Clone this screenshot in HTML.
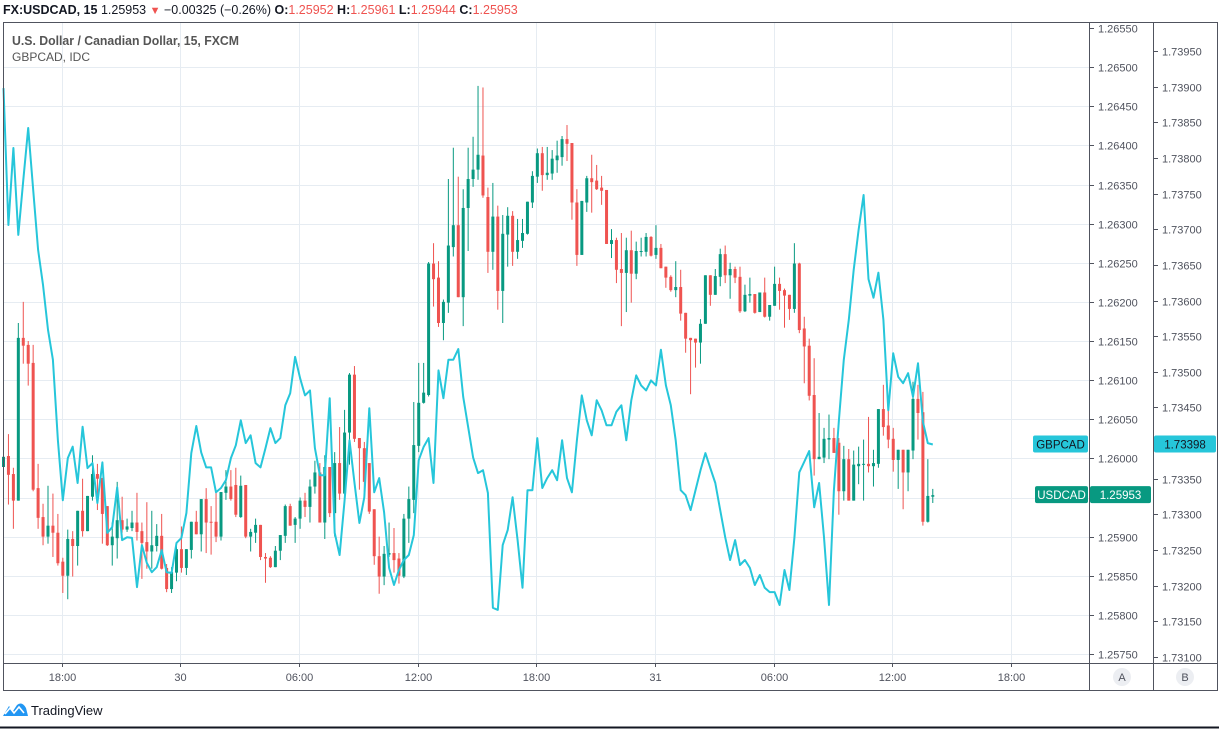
<!DOCTYPE html>
<html><head><meta charset="utf-8"><style>
html,body{margin:0;padding:0;background:#fff;width:1219px;height:729px;overflow:hidden;font-family:"Liberation Sans",sans-serif}
svg{display:block}
</style></head><body>
<svg id="c" width="1219" height="729" xmlns="http://www.w3.org/2000/svg" font-family="Liberation Sans, sans-serif">
<g font-size="12.5">
<text x="3" y="14" font-weight="bold" fill="#131722">FX:USDCAD, 15 <tspan font-weight="normal">1.25953</tspan> <tspan fill="#ef5350" font-size="11">▼</tspan> <tspan font-weight="normal">−0.00325 (−0.26%)</tspan> O:<tspan font-weight="normal" fill="#ef5350">1.25952</tspan> H:<tspan font-weight="normal" fill="#ef5350">1.25961</tspan> L:<tspan font-weight="normal" fill="#ef5350">1.25944</tspan> C:<tspan font-weight="normal" fill="#ef5350">1.25953</tspan></text>
</g>
<g id="grid"></g>
<g id="marks"></g>
<g fill="none" stroke="#50535e" stroke-width="1">
<rect x="3.5" y="22.5" width="1214" height="668"/>
<line x1="3.5" y1="663.5" x2="1217.5" y2="663.5"/>
<line x1="1089.5" y1="22.5" x2="1089.5" y2="690.5"/>
<line x1="1153.5" y1="22.5" x2="1153.5" y2="690.5"/>
<line x1="0" y1="727.5" x2="1219" y2="727.5" stroke="#131722" stroke-width="2"/>
</g>
<g id="axisA" font-size="11" fill="#50535e"></g>
<g id="axisB" font-size="11" fill="#50535e"></g>
<g id="axisX" font-size="11" fill="#50535e"></g>
<g>
<text x="12" y="45" font-size="13" font-weight="bold" fill="#555" textLength="227" lengthAdjust="spacingAndGlyphs">U.S. Dollar / Canadian Dollar, 15, FXCM</text>
<text x="12" y="61" font-size="12" fill="#555">GBPCAD, IDC</text>
</g>
<g font-size="11" fill="#50535e">
<circle cx="1122" cy="677" r="9" fill="#eceef2"/>
<text x="1122" y="681" text-anchor="middle">A</text>
<circle cx="1185" cy="677" r="9" fill="#eceef2"/>
<text x="1185" y="681" text-anchor="middle">B</text>
</g>
<g>
<path d="M3 716 L9 706 L13 711 L17 705 Q22 701 26 708 L28 716 Z" fill="#2196f3"/>
<path d="M5 714 L10 708 L14 713 L19 707 L24 713" fill="none" stroke="#fff" stroke-width="1.6"/>
<text x="31" y="715" font-size="13" fill="#131722">TradingView</text>
</g>
</svg>
<script>
const ticksA=[1.2655,1.265,1.2645,1.264,1.2635,1.263,1.2625,1.262,1.2615,1.261,1.2605,1.26,1.2595,1.259,1.2585,1.258,1.2575];
const ticksB=[1.7395,1.739,1.7385,1.738,1.7375,1.737,1.7365,1.736,1.7355,1.735,1.7345,1.734,1.7335,1.733,1.7325,1.732,1.7315,1.731];
const timeLabels=["18:00","30","06:00","12:00","18:00","31","06:00","12:00","18:00"];
const timeTickBars=[11.8,35.8,59.8,83.8,107.8,131.8,155.8,179.8,203.8];
// USDCAD OHLC in points (price x 1e5)
const usdOpen=[125989,126003,125980,125946,126154,126145,126122,125962,125925,125900,125914,125905,125868,125850,125897,125888,125933,125907,125951,125980,125975,125939,125889,125898,125921,125909,125911,125918,125907,125893,125881,125888,125901,125860,125833,125854,125884,125860,125883,125919,125903,125948,125919,125919,125900,125956,125964,125966,125925,125966,125900,125905,125915,125874,125873,125861,125882,125901,125939,125915,125923,125946,125938,125964,125982,125918,125989,125930,125994,125955,126033,126107,126026,126013,125994,125935,125875,125849,125877,125879,125872,125849,125923,125947,126016,126071,126081,126249,126231,126173,126199,126270,126298,126206,126320,126357,126369,126387,126334,126264,126309,126214,126286,126310,126264,126278,126287,126327,126360,126390,126362,126364,126381,126385,126408,126403,126327,126260,126327,126358,126355,126346,126343,126274,126279,126242,126237,126266,126236,126264,126264,126283,126260,126269,126245,126232,126215,126219,126186,126154,126153,126148,126172,126234,126209,126232,126261,126234,126242,126232,126188,126208,126210,126187,126212,126181,126195,126223,126215,126209,126191,126249,126166,126144,126081,125999,126001,126024,126026,126020,125958,125999,125946,125990,125992,125993,125990,125993,126063,126042,126025,125998,126011,125982,126010,126076,126059,125919,125951];
const usdClose=[126002,125979,125946,126154,126144,126121,125960,125924,125900,125914,125905,125866,125850,125897,125888,125933,125907,125952,125980,125974,125929,125889,125900,125921,125909,125913,125918,125906,125892,125881,125889,125901,125859,125833,125855,125884,125860,125884,125919,125903,125948,125918,125918,125900,125957,125964,125948,125928,125965,125900,125906,125915,125874,125872,125861,125882,125902,125939,125914,125923,125946,125938,125964,125982,125918,125989,125930,125994,125955,126033,126107,126025,126013,125970,125932,125875,125849,125878,125879,125870,125850,125923,125948,126017,126071,126084,126249,126229,126173,126200,126272,126298,126206,126320,126357,126369,126388,126336,126264,126309,126214,126287,126310,126264,126279,126288,126328,126361,126390,126362,126365,126383,126387,126408,126402,126327,126260,126329,126358,126353,126344,126342,126274,126279,126241,126237,126266,126236,126265,126265,126283,126259,126269,126243,126231,126215,126219,126185,126153,126151,126148,126172,126234,126209,126233,126261,126234,126242,126231,126188,126209,126210,126186,126212,126181,126196,126223,126214,126208,126191,126249,126164,126143,126080,125999,126002,126025,126026,126007,125958,125999,125946,125992,125993,125993,125990,125994,126063,126040,126024,125998,126011,125982,126011,126076,126058,125919,125952,125953];
const usdHigh=[126033,126031,125988,126173,126200,126150,126145,125993,125942,125965,125955,125929,125873,125909,125907,125933,125974,125952,126004,125993,125975,125939,125918,125970,125951,125923,125933,125956,125918,125944,125933,125916,125929,125865,125861,125891,125913,125884,125919,125933,125948,125962,125939,125957,125957,125985,125985,125988,125978,125966,125910,125923,125915,125879,125875,125888,125902,125941,125942,125925,125950,125956,125973,125997,125994,126004,125989,126008,126040,126062,126109,126118,126026,126021,125994,125935,125900,125888,125918,125911,125879,125929,125964,126072,126122,126122,126251,126275,126252,126203,126357,126397,126360,126344,126397,126411,126476,126474,126346,126352,126323,126311,126321,126316,126306,126306,126328,126367,126396,126398,126398,126394,126406,126412,126426,126403,126344,126329,126361,126388,126375,126361,126343,126293,126282,126288,126282,126291,126277,126282,126288,126284,126298,126274,126245,126234,126252,126241,126186,126154,126153,126178,126234,126234,126242,126268,126272,126250,126245,126245,126222,126231,126210,126212,126231,126196,126245,126231,126217,126209,126275,126250,126181,126153,126128,126058,126039,126056,126039,126026,126016,126012,126010,126015,126024,126053,126011,126063,126094,126063,126039,126011,126011,126011,126098,126094,126085,125999,125961];
const usdLow=[125930,125941,125910,125946,126121,126093,125958,125910,125889,125891,125874,125863,125828,125820,125849,125863,125900,125907,125946,125934,125891,125888,125863,125872,125905,125906,125907,125895,125846,125859,125859,125881,125858,125829,125828,125843,125854,125851,125872,125903,125881,125879,125877,125893,125895,125947,125946,125925,125924,125898,125881,125892,125870,125841,125860,125861,125870,125892,125914,125892,125910,125925,125918,125955,125918,125897,125925,125900,125947,125947,125992,126021,125960,125957,125929,125864,125827,125838,125874,125854,125840,125847,125892,125930,126008,126070,126079,126194,126168,126151,126186,126258,126206,126169,126265,126347,126356,126333,126237,126241,126190,126173,126245,126246,126255,126269,126286,126320,126352,126342,126356,126356,126365,126374,126380,126305,126246,126260,126315,126314,126343,126324,126274,126256,126224,126169,126187,126199,126229,126258,126258,126258,126255,126243,126218,126213,126206,126176,126135,126082,126116,126121,126172,126195,126209,126220,126224,126204,126224,126186,126187,126199,126185,126187,126180,126176,126195,126190,126167,126177,126186,126160,126096,126074,125978,125999,125994,125999,126007,125928,125946,125946,125946,125967,125946,125982,125964,125988,126029,126013,125983,125961,125935,125958,125999,126024,125914,125918,125943];
// GBPCAD closes in points (price x 1e5), one per bar
const gbpClose=[173898,173706,173814,173692,173769,173842,173755,173671,173622,173559,173517,173404,173320,173379,173395,173344,173423,173365,173372,173316,173373,173274,173282,173338,173264,173268,173267,173198,173257,173232,173219,173226,173250,173219,173218,173260,173267,173302,173386,173424,173387,173366,173366,173331,173337,173348,173379,173397,173432,173400,173411,173372,173366,173393,173421,173400,173407,173453,173470,173521,173491,173467,173474,173393,173355,173355,173463,173274,173243,173320,173404,173344,173288,173324,173449,173331,173351,173303,173225,173201,173222,173236,173243,173271,173376,173395,173407,173344,173502,173463,173517,173517,173532,173465,173423,173380,173358,173362,173330,173169,173166,173257,173278,173324,173264,173197,173334,173334,173407,173337,173351,173362,173348,173404,173351,173331,173404,173467,173432,173411,173460,173446,173425,173425,173444,173453,173404,173460,173495,173481,173474,173488,173481,173531,173481,173453,173404,173334,173327,173306,173334,173362,173386,173365,173344,173306,173268,173236,173264,173229,173236,173225,173201,173215,173197,173191,173191,173173,173222,173194,173267,173359,173374,173389,173310,173344,173268,173173,173334,173432,173517,173573,173643,173699,173748,173630,173604,173639,173573,173446,173526,173493,173484,173498,173465,173512,173430,173400,173398];

const NS="http://www.w3.org/2000/svg";
const X0=3.5, DX=4.943;
function xOf(i){return X0+DX*i;}
function yA(p){return 28+(1.2655-p)/0.0005*39.125;}
function yB(p){return 51+(1.7395-p)/0.0005*35.647;}
function mk(tag,attrs,parent){const e=document.createElementNS(NS,tag);for(const k in attrs)e.setAttribute(k,attrs[k]);parent.appendChild(e);return e;}
const grid=document.getElementById('grid'),marks=document.getElementById('marks');
const axA=document.getElementById('axisA'),axB=document.getElementById('axisB'),axX=document.getElementById('axisX');
ticksA.forEach(t=>{const y=Math.round(yA(t))+0.5;
 if(y>30){const g=mk('line',{x1:3.5,x2:1089,y1:y,y2:y,stroke:'#e6ecf2','stroke-width':1},grid);
 
 }
 mk('line',{x1:1089.5,x2:1094,y1:y,y2:y,stroke:'#50535e'},axA);
 const tx=mk('text',{x:1098,y:y+4},axA);tx.textContent=t.toFixed(5);
 
 
});
ticksB.forEach(t=>{const y=Math.round(yB(t))+0.5;
 mk('line',{x1:1153.5,x2:1158,y1:y,y2:y,stroke:'#50535e'},axB);
 const tx=mk('text',{x:1162,y:y+4},axB);tx.textContent=t.toFixed(5);
 
 
});
timeTickBars.forEach((b,k)=>{const x=Math.round(xOf(b))+0.5;
 const g=mk('line',{x1:x,x2:x,y1:23,y2:663,stroke:'#e6ecf2'},grid);
 
 
 mk('line',{x1:x,x2:x,y1:663,y2:667,stroke:'#50535e'},axX);
 const tx=mk('text',{x:x,y:681,'text-anchor':'middle'},axX);tx.textContent=timeLabels[k];
 
 
});
for(let i=0;i<usdOpen.length;i++){
 const o=usdOpen[i]/1e5,c=usdClose[i]/1e5,h=usdHigh[i]/1e5,l=usdLow[i]/1e5;
 const up=c>=o,col=up?'#089981':'#ef5350',x=xOf(i);
 const g=mk('g',{},marks);
 
 
 mk('line',{x1:x,x2:x,y1:yA(h),y2:yA(l),stroke:col,'stroke-width':1},g);
 const yt=yA(Math.max(o,c)),yb=yA(Math.min(o,c));
 mk('rect',{x:x-1.5,y:yt,width:3,height:Math.max(1,yb-yt),fill:col},g);
}
let d='';gbpClose.forEach((v,i)=>{d+=(i?'L':'M')+xOf(i).toFixed(1)+' '+yB(v/1e5).toFixed(1);});
const ln=mk('path',{d:d,fill:'none',stroke:'#26c6da','stroke-width':2,'stroke-linejoin':'round'},marks);


function tag(parent,x,y,w,txt,bg,fg,name){const g=mk('g',{},parent);
 
 
 mk('rect',{x:x,y:y-9,width:w,height:17,rx:2,fill:bg},g);
 const t=mk('text',{x:x+w/2,y:y+4,'text-anchor':'middle','font-size':11.5,fill:fg},g);t.textContent=txt;}
const lastG=gbpClose[gbpClose.length-1]/1e5,lastU=usdClose[usdClose.length-1]/1e5;
const svg=document.getElementById('c');
tag(svg,1033,yB(lastG),55,'GBPCAD','#26c6da','#131722','gbpcad-series-tag');
tag(svg,1154,yB(lastG),62,lastG.toFixed(5),'#26c6da','#131722','gbpcad-last-price');
tag(svg,1035,yA(lastU),53,'USDCAD','#089981','#fff','usdcad-series-tag');
tag(svg,1090,yA(lastU),61,lastU.toFixed(5),'#089981','#fff','usdcad-last-price');
</script>
</body></html>
